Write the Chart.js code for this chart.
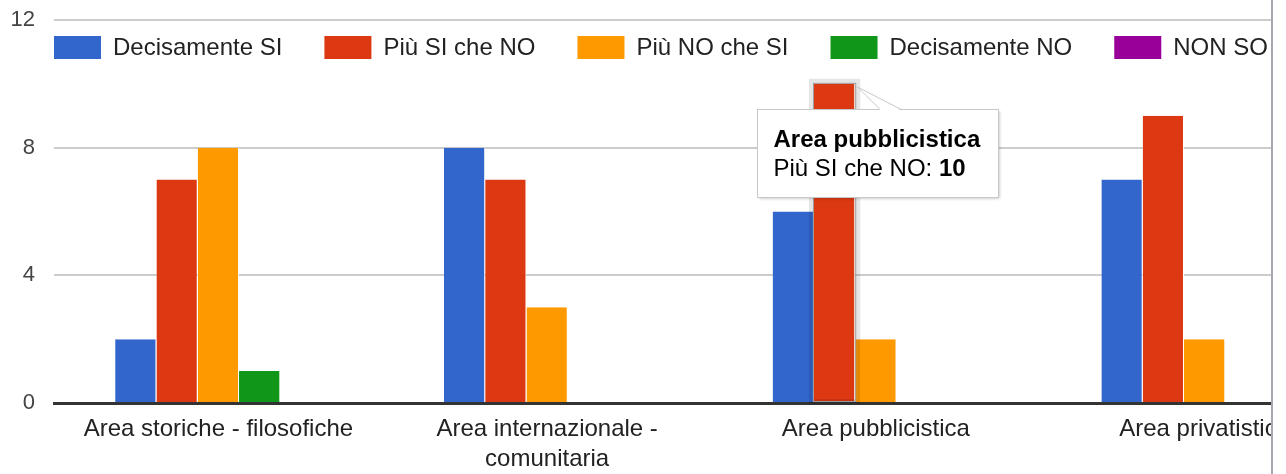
<!DOCTYPE html>
<html><head><meta charset="utf-8">
<script src="https://cdn.jsdelivr.net/npm/chart.js@4"></script>
<style>
html,body{margin:0;padding:0;background:#fff;overflow:hidden;}
#wrap{position:absolute;left:0;top:0;width:1271px;height:474px;overflow:hidden;border-right:2px solid #a6a6ae;}
canvas{display:block;}
</style></head><body>
<div id="wrap"><canvas id="c" width="1370" height="474"></canvas></div>
<script>
const categories = ["Area storiche - filosofiche", ["Area internazionale -", "comunitaria"], "Area pubblicistica", "Area privatistica"];
const seriesNames = ["Decisamente SI", "Più SI che NO", "Più NO che SI", "Decisamente NO", "NON SO"];
const decisamenteSi = [2, 8, 6, 7];
const piuSiCheNo = [7, 7, 10, 9];
const piuNoCheSi = [8, 3, 2, 2];
const decisamenteNo = [1, 0, 0, 0];
const nonSo = [0, 0, 0, 0];
const yTicks = [0, 4, 8, 12];
const seriesColors = ["#3366cc", "#dc3912", "#ff9900", "#109618", "#990099"];
const tooltipSeries = 1;
const tooltipCategory = 2;

const FONT = '"Liberation Sans", Arial, sans-serif';
const seriesValues = [decisamenteSi, piuSiCheNo, piuNoCheSi, decisamenteNo, nonSo];

const overlayPlugin = {
  id: 'gOverlay',
  afterDraw(chart) {
    const ctx = chart.ctx;
    const area = chart.chartArea;
    // legend
    ctx.save();
    ctx.font = '24px ' + FONT;
    ctx.textBaseline = 'middle';
    ctx.textAlign = 'left';
    let x = area.left;
    const top = area.top + 16, bw = 47, bh = 23;
    chart.data.datasets.forEach(ds => {
      ctx.fillStyle = ds.backgroundColor;
      ctx.fillRect(x, top, bw, bh);
      ctx.fillStyle = '#222';
      ctx.fillText(ds.label, x + bw + 12, top + bh / 2 + 1);
      x += bw + 12 + ctx.measureText(ds.label).width + 42;
    });
    ctx.restore();

    // tooltip
    const meta = chart.getDatasetMeta(tooltipSeries);
    const bar = meta.data[tooltipCategory];
    const p = bar.getProps(['x', 'y', 'width', 'base'], true);
    const bl = p.x - p.width / 2, br = p.x + p.width / 2, bt = p.y, bb = p.base;
    ctx.save();
    ctx.strokeStyle = 'rgba(0,0,0,0.10)';
    ctx.lineWidth = 5;
    ctx.strokeRect(bl - 2.5, bt - 2.5, p.width + 5, bb - bt + 2);
    ctx.strokeStyle = '#9a9a9a';
    ctx.lineWidth = 1;
    ctx.strokeRect(bl - 0.5, bt - 0.5, p.width + 1, bb - bt);
    ctx.restore();

    const title = typeof chart.data.labels[tooltipCategory] === 'string' ? chart.data.labels[tooltipCategory] : chart.data.labels[tooltipCategory].join(' ');
    const ds = chart.data.datasets[tooltipSeries];
    const bodyLabel = ds.label + ': ';
    const bodyVal = String(ds.data[tooltipCategory]);
    ctx.save();
    ctx.font = 'bold 24px ' + FONT;
    const tw = ctx.measureText(title).width;
    const boxL = Math.round(bl - 57) + 0.5, boxT = Math.round(bt + 25) + 0.5;
    const boxW = Math.round(tw + 34), boxH = 88;
    ctx.shadowColor = 'rgba(0,0,0,0.25)';
    ctx.shadowBlur = 3;
    ctx.shadowOffsetX = 1;
    ctx.shadowOffsetY = 1;
    ctx.fillStyle = '#fff';
    ctx.fillRect(boxL, boxT, boxW, boxH);
    ctx.shadowColor = 'transparent';
    ctx.strokeStyle = '#c8c8c8';
    ctx.lineWidth = 1;
    ctx.strokeRect(boxL, boxT, boxW, boxH);
    // tail
    const ax = br + 2, ay = bt + 3, b1 = br + 25, b2 = br + 46;
    ctx.beginPath();
    ctx.moveTo(ax, ay);
    ctx.lineTo(b2, boxT + 1);
    ctx.lineTo(b1, boxT + 1);
    ctx.closePath();
    ctx.fillStyle = '#fff';
    ctx.fill();
    ctx.beginPath();
    ctx.moveTo(b1, boxT);
    ctx.lineTo(ax, ay);
    ctx.lineTo(b2, boxT);
    ctx.strokeStyle = '#c8c8c8';
    ctx.stroke();
    // text
    ctx.fillStyle = '#000';
    ctx.textBaseline = 'alphabetic';
    ctx.textAlign = 'left';
    ctx.fillText(title, boxL + 16, boxT + 37);
    ctx.font = '24px ' + FONT;
    ctx.fillText(bodyLabel, boxL + 16, boxT + 66);
    const lw = ctx.measureText(bodyLabel).width;
    ctx.font = 'bold 24px ' + FONT;
    ctx.fillText(bodyVal, boxL + 16 + lw, boxT + 66);
    ctx.restore();
  }
};

new Chart(document.getElementById('c'), {
  type: 'bar',
  data: {
    labels: categories,
    datasets: seriesNames.map((name, i) => ({
      label: name,
      data: seriesValues[i],
      backgroundColor: seriesColors[i],
      borderColor: 'rgba(255,255,255,0.85)',
      borderWidth: {left: 0, right: 1, top: 0, bottom: 0},
      categoryPercentage: 0.628,
      barPercentage: 1.0
    }))
  },
  options: {
    responsive: false,
    animation: false,
    devicePixelRatio: 1,
    events: [],
    layout: {padding: {top: 20, left: 0, right: 1, bottom: 0}},
    plugins: {legend: {display: false}, tooltip: {enabled: false}},
    scales: {
      x: {
        grid: {display: false, drawTicks: false},
        border: {display: true, color: '#333', width: 3, z: 1},
        ticks: {font: {family: FONT, size: 24, lineHeight: 1.22}, color: '#222', padding: 12, maxRotation: 0, autoSkip: false},
        afterFit(s) { s.height = 71; s.paddingLeft = 0; s.paddingRight = 0; }
      },
      y: {
        min: 0, max: 12,
        afterBuildTicks(s) { s.ticks = yTicks.map(v => ({value: v})); },
        grid: {color: ctx => ctx.tick && ctx.tick.value === 0 ? 'rgba(0,0,0,0)' : '#cccccc', lineWidth: 2, drawTicks: false},
        border: {display: false},
        ticks: {font: {family: FONT, size: 22}, color: '#444', padding: 19},
        afterFit(s) { s.width = 54; s.paddingTop = 0; s.paddingBottom = 0; }
      }
    }
  },
  plugins: [overlayPlugin]
});
</script>
</body></html>
